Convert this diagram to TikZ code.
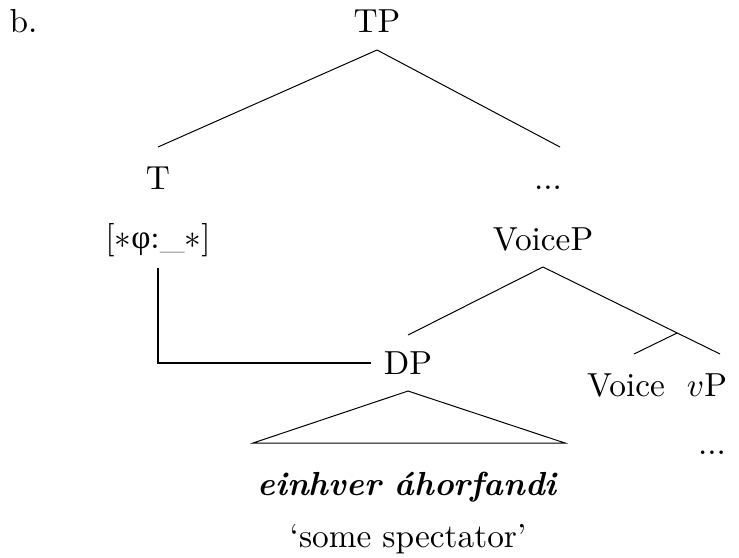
\documentclass[tikz,border=0pt]{standalone}
\usepackage{fontspec}
\newfontfamily\grkfont{Liberation Serif}
\begin{document}
\begin{tikzpicture}[x=0.3pt,y=-0.3pt,
  lbl/.style={anchor=base,inner sep=0pt,font=\fontsize{10}{12}\selectfont},
  br/.style={line width=0.3pt},
  ln/.style={line width=0.55pt}]
\useasboundingbox (0,0) rectangle (739,557);
\node[lbl,anchor=base west] (b) at (9,32) {b.};
\node[lbl] (TP) at (377,32) {TP};
\node[lbl] (T) at (158,189) {T};
\node[lbl] (dots1) at (548,189) {...};
\node[lbl] (feat) at (158,248) {[$\ast${\grkfont φ}:\textcolor{gray}{\_}$\ast$]};
\node[lbl] (VoiceP) at (543,250) {VoiceP};
\node[lbl] (DP) at (408,374) {DP};
\node[lbl] (Voice) at (626,396) {Voice};
\node[lbl] (vP) at (707,396) {$v$P};
\node[lbl] (dots2) at (712,454) {...};
\node[lbl] (ein) at (408,495) {\textbf{\textit{einhver áhorfandi}}};
\node[lbl] (gloss) at (408,547) {`some spectator'};
% branch points
\coordinate (tpb) at (377,50);
\coordinate (tl) at (158,147);
\coordinate (tr) at (560,147);
\coordinate (vpb) at (543,267);
\coordinate (dpt) at (408,335);
\coordinate (vbr) at (677,333);
\coordinate (vpt) at (720,354);
\coordinate (voicet) at (634,354);
\draw[br] (tpb) -- (tl);
\draw[br] (tpb) -- (tr);
\draw[br] (vpb) -- (dpt);
\draw[br] (vpb) -- (vpt);
\draw[br] (vbr) -- (voicet);
% triangle
\coordinate (apex) at (408,391);
\coordinate (bl) at (253,443);
\coordinate (brr) at (565,443);
\draw[br] (apex) -- (bl) -- (brr) -- cycle;
% agreement line
\coordinate (fb) at (158,268);
\coordinate (corner) at (158,363);
\coordinate (dpl) at (371,363);
\draw[ln] (fb) -- (corner) -- (dpl);
\end{tikzpicture}
\end{document}
